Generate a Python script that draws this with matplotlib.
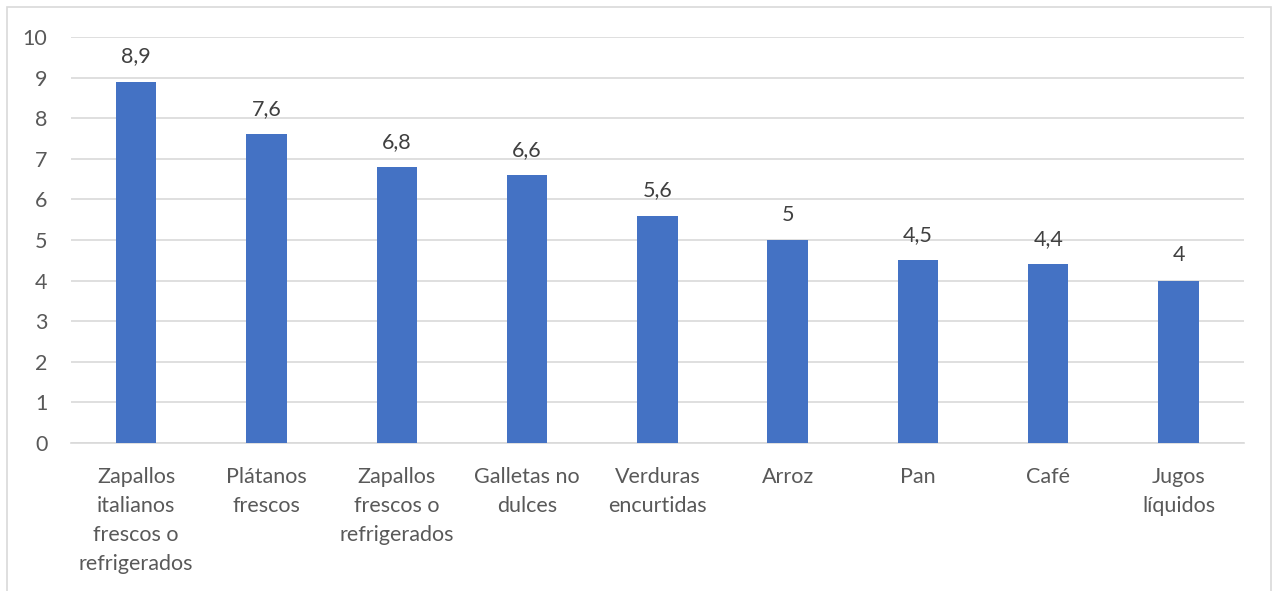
import matplotlib.pyplot as plt
from matplotlib.patches import Rectangle

categories = ["Zapallos\nitalianos\nfrescos o\nrefrigerados", "Plátanos\nfrescos",
              "Zapallos\nfrescos o\nrefrigerados", "Galletas no\ndulces",
              "Verduras\nencurtidas", "Arroz", "Pan", "Café", "Jugos\nlíquidos"]
values = [8.9, 7.6, 6.8, 6.6, 5.6, 5.0, 4.5, 4.4, 4.0]
value_labels = ["8,9", "7,6", "6,8", "6,6", "5,6", "5", "4,5", "4,4", "4"]

plt.rcParams["font.family"] = ["Lato", "DejaVu Sans"]
text_color = "#595959"
fs = 15.5

fig = plt.figure(figsize=(12.73, 5.91), dpi=100)
ax = fig.add_axes([0.0558, 0.2504, 0.977 - 0.0558, 0.9374 - 0.2504])

x = range(len(categories))
ax.bar(x, values, width=0.31, color="#4472C4", zorder=3)
for i, (v, lab) in enumerate(zip(values, value_labels)):
    ax.annotate(lab, (i, v), xytext=(0, 11), textcoords="offset points",
                ha="center", va="bottom", fontsize=fs, color="#404040")

ax.set_xlim(-0.5, len(categories) - 0.5)
ax.set_ylim(0, 10)
ax.set_yticks(range(11))
ax.grid(axis="y", color="#D9D9D9", linewidth=1.2, zorder=0)
ax.set_xticks(list(x))
ax.set_xticklabels(categories, fontsize=fs, color=text_color, linespacing=1.58)
ax.tick_params(axis="y", labelsize=fs, labelcolor=text_color, length=0, pad=17)
ax.tick_params(axis="x", length=0, pad=17)
for s in ["top", "right", "left"]:
    ax.spines[s].set_visible(False)
ax.spines["bottom"].set_color("#D9D9D9")
ax.spines["bottom"].set_linewidth(1.2)

W, H = 1273, 591
fig.patches.append(Rectangle((7 / W, -0.05), (1271 - 7) / W, 1.05 - 7 / H,
                             transform=fig.transFigure, fill=False,
                             edgecolor="#D9D9D9", linewidth=1.2))

fig.savefig("out.png", dpi=100)
